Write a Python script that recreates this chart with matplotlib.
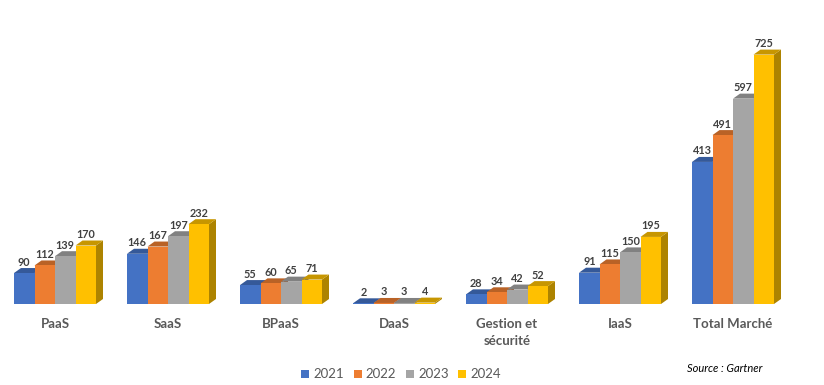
import numpy as np
import matplotlib
matplotlib.use('Agg')
import matplotlib.pyplot as plt
from matplotlib.patches import Polygon, Rectangle
from matplotlib.colors import to_rgb

##########
## Data ##
##########
categories = ['PaaS', 'SaaS', 'BPaaS', 'DaaS', 'Gestion et\nsécurité', 'IaaS', 'Total Marché']
years = ['2021', '2022', '2023', '2024']
v2021 = [90, 146, 55, 2, 28, 91, 413]
v2022 = [112, 167, 60, 3, 34, 115, 491]
v2023 = [139, 197, 65, 3, 42, 150, 597]
v2024 = [170, 232, 71, 4, 52, 195, 725]
series = [v2021, v2022, v2023, v2024]
colors = ['#4472C4', '#ED7D31', '#A5A5A5', '#FFC000']

##############
## Settings ##
##############
plt.rcParams['font.family'] = ['Lato', 'DejaVu Sans']

W, H = 824, 385
fig = plt.figure(figsize=(W / 100, H / 100), dpi=100)
ax = fig.add_axes([0, 0, 1, 1])
ax.set_axis_off()

# pixel layout -> data limits
x0_px, step_px = 55.0, 113.0
base_px, scale = 81.0, 0.344   # bottom of bars (from bottom) and px per unit
ax.set_xlim(-x0_px / step_px, (W - x0_px) / step_px)
ax.set_ylim(-base_px / scale, (H - base_px) / scale)

bw = 20.5 / step_px           # bar width in data units
dx = 7.0 / step_px            # depth offset
dy = 5.0 / scale


def shade(c, f):
    r, g, b = to_rgb(c)
    return (r * f, g * f, b * f)


z = 1
for i, cat in enumerate(categories):
    for j, vals in enumerate(series):
        v = vals[i]
        left = i + (j - 2) * bw
        c = colors[j]
        # side face
        ax.add_patch(Polygon([(left + bw, 0), (left + bw + dx, dy), (left + bw + dx, v + dy), (left + bw, v)],
                             closed=True, fc=shade(c, 0.68), ec='none', zorder=z))
        # top face
        ax.add_patch(Polygon([(left, v), (left + dx, v + dy), (left + bw + dx, v + dy), (left + bw, v)],
                             closed=True, fc=shade(c, 0.78), ec='none', zorder=z))
        # front face
        ax.bar(left, v, width=bw, align='edge', color=c, zorder=z + 1)
        z += 2
        ax.text(left + bw / 2, v + 11 / scale, str(v), ha='center', va='center',
                fontsize=7.8, fontweight='bold', color='#404040', zorder=100)
    ax.text(i, -14 / scale, cat, ha='center', va='top', fontsize=9.5,
            fontweight='bold', color='#595959', linespacing=1.5)

# legend
for j, y in enumerate(years):
    lx = 305 + 52.5 * j
    fig.patches.append(Rectangle(((lx - 4) / W, (H - 378) / H), 8 / W, 8 / H,
                                 transform=fig.transFigure, fc=colors[j], ec='none'))
    fig.text((lx + 8) / W, (H - 374) / H, y, ha='left', va='center',
             fontsize=9.5, color='#595959')

fig.text(687 / W, (H - 369) / H, 'Source : Gartner', ha='left', va='center',
         fontsize=8, style='italic', color='black')

fig.savefig('out.png', dpi=100)
